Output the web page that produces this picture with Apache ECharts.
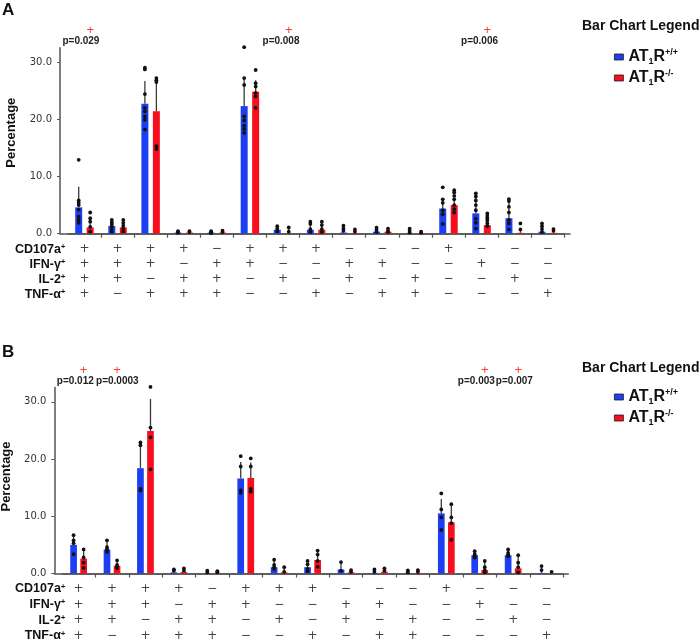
<!DOCTYPE html>
<html><head><meta charset="utf-8">
<script src="https://cdn.jsdelivr.net/npm/echarts@6/dist/echarts.min.js"></script>
<style>html,body{margin:0;padding:0;background:#fff}#c{width:700px;height:643px}</style>
</head><body><div id="c"></div>
<script>
// ---------- DATA ----------
const categories = ['++++','+++−','++−+','+−++','−+++','++−−','+−+−','+−−+','−++−','−+−+','−−++','+−−−','−+−−','−−+−','−−−+'];
const rowLabels = ['CD107a+', 'IFN-γ+', 'IL-2+', 'TNF-α+'];
const cd107aRow = ['+','+','+','+','−','+','+','+','−','−','−','+','−','−','−'];
const ifngRow   = ['+','+','+','−','+','+','−','−','+','+','−','−','+','−','−'];
const il2Row    = ['+','+','−','+','+','−','+','−','+','−','+','−','−','+','−'];
const tnfRow    = ['+','−','+','+','+','−','−','+','−','+','+','−','−','−','+'];
const seriesNames = ['AT1R+/+', 'AT1R-/-'];
const yTicks = [0, 10, 20, 30];

// Panel A
const meanA_wt = [4.6, 1.35, 22.7, 0.2, 0.2, 22.3, 0.7, 0.7, 0.2, 0.35, 0.1, 4.4, 3.55, 2.7, 0.35];
const sdA_wt   = [3.6, 1.05, 4.0, 0.25, 0.25, 4.8, 0.6, 1.3, 1.0, 0.65, 0.7, 1.6, 3.5, 3.35, 0.95];
const meanA_ko = [1.1, 1.1, 21.4, 0.2, 0.2, 24.8, 0.05, 0.7, 0.1, 0.35, 0.1, 5.0, 1.5, 0.15, 0.15];
const sdA_ko   = [1.6, 1.3, 6.0, 0.25, 0.3, 2.0, 0.85, 1.3, 0.5, 0.45, 0.2, 0.9, 2.05, 0.85, 0.45];
const dotsA_wt = [
  [12.9, 5.8, 5.4, 5.0, 4.2, 3.0, 2.4, 1.9], [2.4, 2.0, 1.7, 1.35, 0.9, 0.35],
  [29.0, 28.7, 24.4, 22.0, 21.4, 20.5, 19.9, 18.2], [0.45, 0.3, 0.15], [0.45, 0.25, 0.1],
  [32.6, 27.2, 26.0, 20.5, 19.8, 18.9, 18.3, 17.6], [1.3, 0.85, 0.4], [2.1, 1.7, 0.8, 0.3],
  [1.4, 0.9, 0.5], [1.05, 0.65, 0.3], [0.9, 0.5, 0.2], [8.1, 6.0, 5.4, 4.1, 3.4, 1.7],
  [7.05, 6.5, 5.8, 5.0, 4.1, 2.6, 1.9, 0.9], [6.05, 5.7, 4.7, 3.7, 2.4, 1.8, 0.75], [1.8, 1.3, 0.8, 0.3]
];
const dotsA_ko = [
  [3.7, 2.7, 2.1, 1.2, 0.35], [2.4, 1.9, 1.4, 0.9, 0.4], [27.2, 26.8, 26.5, 15.3, 14.8],
  [0.45, 0.3], [0.55, 0.3], [28.6, 26.3, 25.7, 24.6, 24.0, 22.0], [1.1, 0.35], [2.1, 1.5, 0.8, 0.3],
  [0.75, 0.35], [0.9, 0.5, 0.3], [0.35, 0.15], [7.6, 7.2, 6.6, 6.0, 5.0, 4.3, 3.7],
  [3.55, 3.1, 2.7, 2.3, 1.8, 1.3], [1.8, 0.75], [0.8, 0.5]
];
const pCatsA = [0, 6, 12];
const pTextA = ['p=0.029', 'p=0.008', 'p=0.006'];

// Panel B
const meanB_wt = [5.0, 4.2, 18.4, 0.2, 0.1, 16.6, 1.1, 1.1, 0.7, 0.1, 0.05, 10.5, 3.2, 3.2, 0.1];
const sdB_wt   = [1.6, 1.3, 4.6, 0.5, 0.4, 2.9, 1.2, 1.1, 1.3, 0.6, 0.5, 2.5, 0.7, 1.0, 1.2];
const meanB_ko = [2.6, 1.35, 24.9, 0.25, 0.1, 16.7, 0.2, 2.35, 0.2, 0.3, 0.1, 8.95, 0.6, 0.9, 0.05];
const sdB_ko   = [1.6, 0.85, 5.6, 0.65, 0.3, 2.7, 0.9, 1.65, 0.4, 0.6, 0.5, 3.15, 1.6, 2.3, 0.25];
const dotsB_wt = [
  [6.7, 5.8, 5.3, 3.4], [5.8, 4.6, 4.2, 3.8], [22.9, 22.4, 14.8, 14.5], [0.7, 0.5], [0.5, 0.2],
  [20.5, 18.7, 14.5, 14.1], [2.4, 1.5, 1.1, 0.8], [2.2, 1.6, 0.8, 0.4], [2.0, 0.5], [0.7, 0.3],
  [0.55, 0.2], [14.0, 11.2, 9.8, 7.6], [3.9, 3.4, 3.2, 2.8], [4.2, 3.6, 3.3, 3.0], [1.3, 0.6]
];
const dotsB_ko = [
  [4.2, 2.8, 1.9, 1.0], [2.3, 1.5, 1.2, 0.9], [32.6, 25.5, 23.8, 18.2], [0.9, 0.5], [0.4, 0.2],
  [20.1, 18.7, 14.8, 14.3], [1.1, 0.3], [4.0, 3.3, 2.2, 1.2], [0.6, 0.3], [0.9, 0.5],
  [0.6, 0.3], [12.1, 9.8, 8.8, 5.9], [2.2, 1.1, 0.6, 0.2], [3.2, 1.9, 1.1, 0.2], [0.3]
];
const pCatsB = [0, 1, 12, 13];
const pTextB = ['p=0.012', 'p=0.0003', 'p=0.003', 'p=0.007'];

// ---------- STYLE / LAYOUT ----------
const FONT = 'Liberation Sans';
const BLUE = '#1d3ff4', RED = '#f70f1f';
const AXIS_COLOR = '#555';
const Y_MAX = 32.5;
const P_TEXT_Y = 33.6, P_MARK_Y = 35.5;
const tableRows = [cd107aRow, ifngRow, il2Row, tnfRow];

const panels = [
  { letter: 'A', gridLeft: 67.9, gridTop: 47.7, gridWidth: 496.4, axisX: 60, frameRight: 570,
    tableTop: 241.8, tableHeight: 60, barWidth: 7, barGap: 0.64, nameGap: 42, namePadLeft: 16,
    legendTop: 43, titleTop: 19, letterTop: 2,
    mWt: meanA_wt, sWt: sdA_wt, mKo: meanA_ko, sKo: sdA_ko, dWt: dotsA_wt, dKo: dotsA_ko,
    pCats: pCatsA, pText: pTextA, pShift: [-3.5, -2, -2] },
  { letter: 'B', gridLeft: 61.9, gridTop: 387.5, gridWidth: 501.4, axisX: 54.3, frameRight: 568.3,
    tableTop: 581.2, tableHeight: 62.4, barWidth: 6.7, barGap: 0.5, nameGap: 36, namePadLeft: 8,
    legendTop: 383, titleTop: 361, letterTop: 344,
    mWt: meanB_wt, sWt: sdB_wt, mKo: meanB_ko, sKo: sdB_ko, dWt: dotsB_wt, dKo: dotsB_ko,
    pCats: pCatsB, pText: pTextB, pShift: [-3.3, 5.3, -3.4, 1.2] }
];

const grid = [], xAxis = [], yAxis = [], series = [], legend = [], title = [];

panels.forEach((P, k) => {
  const g0 = grid.length;
  const half = P.barWidth * (1 + P.barGap) / 2;
  const gHeight = 186;
  const gb = { outerBoundsMode: 'none', containLabel: false };
  grid.push(Object.assign({ left: P.gridLeft, top: P.gridTop, width: P.gridWidth, height: gHeight }, gb));
  grid.push(Object.assign({ left: P.axisX, top: P.gridTop, width: P.frameRight - P.axisX, height: gHeight }, gb));
  grid.push(Object.assign({ left: P.gridLeft, top: P.tableTop, width: P.gridWidth, height: P.tableHeight }, gb));

  xAxis.push({ type: 'category', gridIndex: g0, data: categories, boundaryGap: true,
    axisLine: { show: true, lineStyle: { color: AXIS_COLOR, width: 1.5 } },
    axisTick: { show: true, length: 4, interval: (i) => i > 0, lineStyle: { color: AXIS_COLOR, width: 1.2 } },
    axisLabel: { show: false }, splitLine: { show: false } });
  xAxis.push({ type: 'value', gridIndex: g0 + 1, min: 0, max: 1,
    axisLine: { show: true, lineStyle: { color: AXIS_COLOR, width: 1.5 } },
    axisTick: { show: false }, axisLabel: { show: false }, splitLine: { show: false } });
  xAxis.push({ type: 'category', gridIndex: g0 + 2, data: categories, boundaryGap: true, show: false });

  yAxis.push({ type: 'value', gridIndex: g0, min: 0, max: Y_MAX, offset: P.gridLeft - P.axisX,
    name: 'Percentage', nameLocation: 'middle', nameGap: P.nameGap, nameRotate: 90,
    nameTextStyle: { fontFamily: FONT, fontWeight: 'bold', fontSize: 13, color: '#111', padding: [0, 0, 0, P.namePadLeft] },
    axisLine: { show: true, lineStyle: { color: AXIS_COLOR, width: 1.5 } },
    axisTick: { show: true, length: 3, customValues: yTicks, lineStyle: { color: AXIS_COLOR } },
    axisLabel: { customValues: yTicks, formatter: v => v.toFixed(1), fontFamily: 'DejaVu Sans', fontSize: 10, color: '#333', margin: 8 },
    splitLine: { show: false } });
  yAxis.push({ type: 'value', gridIndex: g0 + 1, min: 0, max: 1, show: false });
  yAxis.push({ type: 'category', gridIndex: g0 + 2, data: rowLabels, inverse: true,
    axisLine: { show: false }, axisTick: { show: false },
    axisLabel: { interval: 0, hideOverlap: false, margin: P.gridLeft - 65.5, fontFamily: FONT, fontWeight: 'bold', fontSize: 12.5, color: '#111',
      formatter: v => v.slice(0, -1) + '{sup|+}',
      rich: { sup: { fontFamily: FONT, fontWeight: 'bold', fontSize: 8, lineHeight: 8, verticalAlign: 'top', color: '#111' } } } });

  const names = seriesNames;
  series.push({ type: 'bar', name: names[0], xAxisIndex: g0, yAxisIndex: g0, data: P.mWt,
    barWidth: P.barWidth, barGap: (P.barGap * 100) + '%', itemStyle: { color: BLUE }, z: 2 });
  series.push({ type: 'bar', name: names[1], xAxisIndex: g0, yAxisIndex: g0, data: P.mKo,
    barWidth: P.barWidth, barGap: (P.barGap * 100) + '%', itemStyle: { color: RED }, z: 2 });

  const errData = [];
  P.mWt.forEach((m, i) => errData.push([i, m, m + P.sWt[i], 0]));
  P.mKo.forEach((m, i) => errData.push([i, m, m + P.sKo[i], 1]));
  series.push({ type: 'custom', xAxisIndex: g0, yAxisIndex: g0, data: errData, z: 3, silent: true,
    renderItem: (params, api) => {
      const i = api.value(0), off = api.value(3) === 0 ? -half : half;
      const p1 = api.coord([i, api.value(1)]), p2 = api.coord([i, api.value(2)]);
      return { type: 'line', shape: { x1: p1[0] + off, y1: p1[1], x2: p1[0] + off, y2: p2[1] },
        style: { stroke: '#3a3a3a', lineWidth: 1.3 } };
    } });

  const dotData = [];
  P.dWt.forEach((arr, i) => arr.forEach(v => dotData.push([i, v, 0])));
  P.dKo.forEach((arr, i) => arr.forEach(v => dotData.push([i, v, 1])));
  series.push({ type: 'custom', xAxisIndex: g0, yAxisIndex: g0, data: dotData, z: 4, silent: true,
    renderItem: (params, api) => {
      const i = api.value(0), off = api.value(2) === 0 ? -half : half;
      const p = api.coord([i, api.value(1)]);
      return { type: 'circle', shape: { cx: p[0] + off, cy: p[1], r: 1.9 }, style: { fill: '#111' } };
    } });

  const pData = P.pCats.map((c, j) => [c, j]);
  series.push({ type: 'custom', xAxisIndex: g0, yAxisIndex: g0, data: pData, z: 5, silent: true, clip: false,
    renderItem: (params, api) => {
      const i = api.value(0), j = api.value(1);
      const pt = api.coord([i, P_TEXT_Y]), pm = api.coord([i, P_MARK_Y]);
      return { type: 'group', children: [
        { type: 'text', x: pt[0] + P.pShift[j], y: pt[1],
          style: { text: P.pText[j], fill: '#222', font: 'bold 10px "Liberation Sans"', align: 'center', verticalAlign: 'middle' } },
        { type: 'text', x: pm[0] + half, y: pm[1],
          style: { text: '+', fill: '#ff3a3a', font: '13px "Liberation Sans"', align: 'center', verticalAlign: 'middle' } }
      ] };
    } });

  const tData = [];
  tableRows.forEach((row, r) => row.forEach((s, c) => tData.push([c, r, s === '+' ? 1 : 0])));
  series.push({ type: 'custom', xAxisIndex: g0 + 2, yAxisIndex: g0 + 2, data: tData, silent: true,
    renderItem: (params, api) => {
      const p = api.coord([api.value(0), api.value(1)]);
      return { type: 'text', x: p[0], y: p[1],
        style: { text: api.value(2) === 1 ? '+' : '−', fill: '#444', font: '12px "DejaVu Sans"', align: 'center', verticalAlign: 'middle' } };
    } });

  legend.push({ data: names, orient: 'vertical', left: 609, top: P.legendTop, itemWidth: 9, itemHeight: 6, itemGap: 3,
    icon: 'rect', itemStyle: { borderColor: '#1a1a1a', borderWidth: 0.8 }, selectedMode: false,
    textStyle: { fontFamily: FONT, fontWeight: 'bold', fontSize: 16, lineHeight: 18, color: '#111',
      rich: { sub: { fontFamily: FONT, fontWeight: 'bold', fontSize: 9, lineHeight: 9, verticalAlign: 'bottom', color: '#111' },
              sup: { fontFamily: FONT, fontWeight: 'bold', fontSize: 9, lineHeight: 9, verticalAlign: 'top', color: '#111' } } },
    formatter: n => 'AT{sub|1}R{sup|' + n.slice(4) + '}' });

  title.push({ text: 'Bar Chart Legend', left: 582, top: P.titleTop, padding: 0,
    textStyle: { fontFamily: FONT, fontWeight: 'bold', fontSize: 14, color: '#111' } });
  title.push({ text: P.letter, left: 2, top: P.letterTop, padding: 0,
    textStyle: { fontFamily: FONT, fontWeight: 'bold', fontSize: 17, color: '#111' } });
});

const chart = echarts.init(document.getElementById('c'), null, { renderer: 'canvas' });
chart.setOption({ animation: false, backgroundColor: '#fff', grid, xAxis, yAxis, series, legend, title });
</script>
</body></html>
